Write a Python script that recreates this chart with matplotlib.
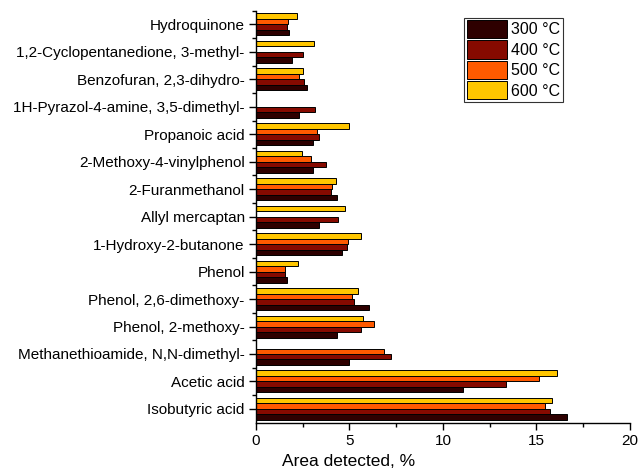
import matplotlib
matplotlib.use("Agg")
import matplotlib.pyplot as plt
import numpy as np
from matplotlib.ticker import MultipleLocator

plt.rcParams['font.family'] = ['Liberation Sans', 'DejaVu Sans']

compounds = [
    "Isobutyric acid", "Acetic acid", "Methanethioamide, N,N-dimethyl-",
    "Phenol, 2-methoxy-", "Phenol, 2,6-dimethoxy-", "Phenol",
    "1-Hydroxy-2-butanone", "Allyl mercaptan", "2-Furanmethanol",
    "2-Methoxy-4-vinylphenol", "Propanoic acid",
    "1H-Pyrazol-4-amine, 3,5-dimethyl-", "Benzofuran, 2,3-dihydro-",
    "1,2-Cyclopentanedione, 3-methyl-", "Hydroquinone",
]
series_labels = ["300 °C", "400 °C", "500 °C", "600 °C"]
t300 = [16.65, 11.06, 4.98, 4.34, 6.06, 1.66, 4.59, 3.38, 4.36, 3.06, 3.06, 2.33, 2.76, 1.94, 1.76]
t400 = [15.72, 13.37, 7.21, 5.61, 5.23, 1.55, 4.86, 4.38, 4.02, 3.77, 3.36, 3.17, 2.58, 2.51, 1.67]
t500 = [15.44, 15.15, 6.87, 6.30, 5.13, 1.57, 4.91, 0.0, 4.06, 2.95, 3.29, 0.0, 2.30, 0.0, 1.73]
t600 = [15.81, 16.08, 0.0, 5.71, 5.45, 2.24, 5.61, 4.75, 4.27, 2.46, 4.97, 0.0, 2.53, 3.12, 2.22]
colors = ["#2e0000", "#860a00", "#ff5a00", "#ffc600"]

fig = plt.figure(figsize=(6.38, 4.72), dpi=100)
ax = fig.add_axes([0.401, 0.1045, 0.5865, 0.873])

y = np.arange(len(compounds))
h = 0.2
offsets = [-1.5 * h, -0.5 * h, 0.5 * h, 1.5 * h]
for vals, off, c, lab in zip([t300, t400, t500, t600], offsets, colors, series_labels):
    ax.barh(y + off, vals, height=h, color=c, edgecolor="black", linewidth=0.7, label=lab)

ax.set_ylim(-0.5, len(compounds) - 0.5)
ax.set_xlim(0, 20)
ax.set_yticks(y)
ax.set_yticklabels(compounds, fontsize=11)
ax.set_yticks(y + 0.5, minor=True)
ax.xaxis.set_major_locator(MultipleLocator(5))
ax.xaxis.set_minor_locator(MultipleLocator(2.5))
ax.tick_params(axis='both', which='major', length=5, width=1, direction='out', labelsize=11)
ax.tick_params(axis='y', which='major', pad=3)
ax.tick_params(axis='both', which='minor', length=3, width=1, direction='out')
for s in ['top', 'right']:
    ax.spines[s].set_visible(False)
for s in ['left', 'bottom']:
    ax.spines[s].set_linewidth(1.0)
fig.text(349 / 638, 1 - 462 / 472, "Area detected, %", fontsize=12.5, ha='center', va='center')

leg = ax.legend(loc='upper right', bbox_to_anchor=(563 / 638, 1 - 17.5 / 472),
                bbox_transform=fig.transFigure, fontsize=11.5,
                frameon=True, fancybox=False, edgecolor='black', handlelength=2.5,
                handleheight=1.4, handletextpad=0.3, labelspacing=0.12, borderpad=0.15,
                borderaxespad=0.0)
leg.get_frame().set_linewidth(0.8)

fig.savefig("out.png", dpi=100)
